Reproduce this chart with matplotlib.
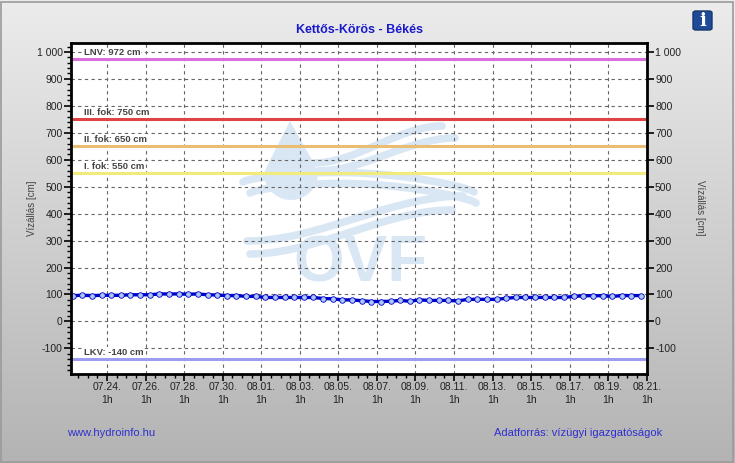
import numpy as np
import matplotlib
matplotlib.use("Agg")
from matplotlib import pyplot as plt
import matplotlib.dates as mdates
from matplotlib.ticker import MultipleLocator, FuncFormatter
from matplotlib.patches import Polygon, FancyBboxPatch, Rectangle
from datetime import datetime, timedelta

plt.rcParams['font.family'] = ['Liberation Sans', 'DejaVu Sans']

# water level readings, every 12 hours
start = datetime(2024, 7, 22, 6)
levels = [96, 97, 96, 97, 97, 97, 99, 99, 99, 102,
          102, 102, 101, 102, 99, 98, 96, 96, 93, 93,
          89, 89, 89, 89, 89, 89, 85, 84, 80, 80,
          77, 74, 74, 75, 78, 75, 80, 78, 78, 78,
          76, 82, 82, 82, 82, 86, 89, 89, 89, 89,
          89, 89, 93, 95, 96, 95, 93, 96, 96, 96]
times = [start + timedelta(hours=12 * i) for i in range(len(levels))]

# threshold levels
thr_names = ['LNV: 972 cm', 'III. fok: 750 cm', 'II. fok: 650 cm', 'I. fok: 550 cm', 'LKV: -140 cm']
thr_values = [972, 750, 650, 550, -140]
thr_colors = ['#d96fdc', '#e04343', '#e9bd72', '#f2ea7a', '#9c9cf0']

tick_days = [datetime(2024, 7, 24, 1) + timedelta(days=2 * k) for k in range(15)]

fig = plt.figure(figsize=(7.35, 4.63), dpi=100)

# gray gradient background
bg = fig.add_axes([0, 0, 1, 1], zorder=-10)
grad = np.linspace(0, 1, 256).reshape(-1, 1)
cmap = matplotlib.colors.LinearSegmentedColormap.from_list('bg', ['#ececec', '#b3b3b3'])
bg.imshow(grad, aspect='auto', cmap=cmap, extent=[0, 1, 0, 1])
bg.add_patch(Rectangle((0.002, 0.003), 0.995, 0.993, fill=False, ec='#9a9a9a', lw=1.2))
bg.set_xlim(0, 1)
bg.set_ylim(0, 1)
bg.axis('off')

ax = fig.add_axes([0.0966, 0.1922, 0.7833, 0.7143])
ax.set_zorder(1)
ax.patch.set_alpha(0)
fig.patches.append(Rectangle((0.0966, 0.1922), 0.7833, 0.7143, transform=fig.transFigure,
                             fc='white', ec='none', zorder=0.4))


# watermark (OVF logo), in pixel coordinates of the figure
def px(x, y):
    return (x / 735, 1 - y / 463)


wm = '#d9e7f5'
drop = [px(290, 121), px(270, 160)]
for a in np.linspace(0, np.pi, 30):
    drop.append(px(291 - 27 * np.cos(a), 173 + 27 * np.sin(a)))
drop.append(px(312, 160))
fig.patches.append(Polygon(drop, closed=True, fc=wm, ec='none', transform=fig.transFigure, zorder=0.5))

# (x0, y0, x1, y1, hump): s-curve from left to right, hump lifts the middle
bands = [
    (314, 163, 442, 126, 0),
    (318, 171, 455, 138, 0),
    (243, 182, 474, 192, 14),
    (250, 193, 476, 203, 14),
    (247, 241, 463, 196, 0),
    (250, 254, 452, 210, 0),
]
tt = np.linspace(0, 1, 80)
for x0, y0, x1, y1, hump in bands:
    if hump:
        cy = y0 + (y1 - y0) * tt - hump * np.sin(np.pi * tt) ** 0.7
    else:
        cy = y0 + (y1 - y0) * (3 * tt ** 2 - 2 * tt ** 3)
    cx = x0 + (x1 - x0) * tt
    ax.plot(cx / 735, 1 - cy / 463, color=wm, lw=5.5, solid_capstyle='round',
            transform=fig.transFigure, zorder=0.6)
fig.text(360 / 735, 1 - 264 / 463, 'OVF', color=wm, fontsize=47, fontweight='bold',
         ha='center', va='center', zorder=0.7)

# threshold lines with labels
for name, val, col in zip(thr_names, thr_values, thr_colors):
    ax.axhline(val, color=col, lw=2.2, zorder=2)
    ax.annotate(name, xy=(0, val), xycoords=('axes fraction', 'data'),
                xytext=(9, 1.5), textcoords='offset points', fontsize=6.8,
                fontweight='bold', color='#444444', va='bottom', ha='left', zorder=3,
                bbox=dict(fc='white', ec='none', pad=0.6))

# water level series
ax.plot(times, levels, color='#0000cc', lw=2.4, marker='o', ms=4.0,
        mfc='#aac8f2', mec='#0000cc', mew=0.6, zorder=4)

ax.set_xlim(datetime(2024, 7, 22, 4), datetime(2024, 8, 21, 1))
ax.set_ylim(-195, 1032)

ax.set_xticks(tick_days)
ax.set_xticklabels([d.strftime('%m.%d.') + '\n1h' for d in tick_days])
ax.xaxis.set_minor_locator(mdates.HourLocator(byhour=[1, 13]))
ax.yaxis.set_major_locator(MultipleLocator(100))
ax.yaxis.set_minor_locator(MultipleLocator(20))
ax.yaxis.set_major_formatter(FuncFormatter(lambda v, p: '{:,.0f}'.format(v).replace(',', ' ')))

ax.grid(True, which='major', color='#666666', ls=(0, (3, 3)), lw=0.8, zorder=1)
ax.tick_params(axis='both', which='major', direction='out', length=5, width=1.2,
               labelsize=7.5, colors='black', labelcolor='#222222')
ax.tick_params(axis='both', which='minor', direction='out', length=3, width=1.0)
ax.tick_params(axis='y', right=True, labelright=True, pad=1)
ax.tick_params(axis='x', pad=1)
for lab in ax.get_xticklabels():
    lab.set_linespacing(1.35)
for sp in ax.spines.values():
    sp.set_linewidth(2)
    sp.set_zorder(5)

fig.text(32 / 735, 1 - 208 / 463, 'Vízállás [cm]', fontsize=7, color='#444444',
         rotation=90, ha='center', va='center')
fig.text(700 / 735, 1 - 208 / 463, 'Vízállás [cm]', fontsize=7, color='#444444',
         rotation=-90, ha='center', va='center')

fig.text(360 / 735, 1 - 30 / 463, 'Kettős-Körös - Békés', color='#1a1acc', fontsize=9,
         fontweight='bold', ha='center', va='center')
fig.text(67 / 735, 1 - 433 / 463, 'www.hydroinfo.hu', color='#2f2fd0', fontsize=8,
         ha='left', va='center')
fig.text(662 / 735, 1 - 433 / 463, 'Adatforrás: vízügyi igazgatóságok', color='#2f2fd0',
         fontsize=8, ha='right', va='center')

# info icon
fig.patches.append(FancyBboxPatch((693 / 735, 1 - 30 / 463), 19 / 735, 19 / 463,
                                  boxstyle='round,pad=0,rounding_size=0.004',
                                  fc='#1f4a98', ec='#16386f', transform=fig.transFigure, zorder=3))
fig.text(702.5 / 735, 1 - 20.5 / 463, 'i', color='white', fontsize=13, fontweight='bold',
         family='DejaVu Serif', ha='center', va='center', zorder=4)

fig.savefig('out.png', dpi=100)
